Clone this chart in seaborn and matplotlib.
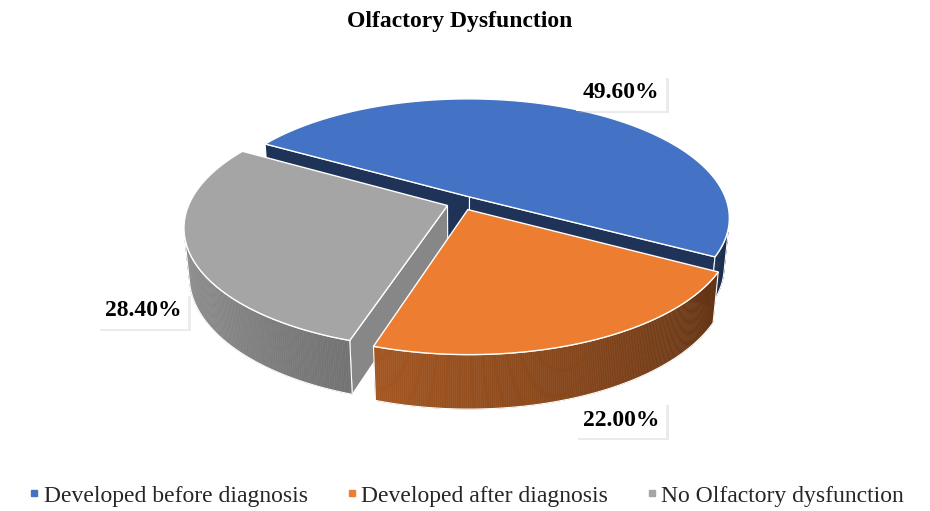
import numpy as np
import matplotlib
matplotlib.use("Agg")
import matplotlib.pyplot as plt
import matplotlib.patheffects as pe
from matplotlib.patches import Polygon
from matplotlib.lines import Line2D
from matplotlib.font_manager import FontProperties
import seaborn as sns

# Datos del grafico
categorias = ["Developed before diagnosis", "Developed after diagnosis", "No Olfactory dysfunction"]
porcentajes = [49.6, 22.0, 28.4]
etiquetas = ["49.60%", "22.00%", "28.40%"]
colores = ["#4472C4", "#ED7D31", "#A5A5A5"]

# Geometria del pastel 3D (en pixeles de la figura)
CX, CY = 462, 203
K = 258
PHI = np.radians(27)
DIST = 5.1
ALTO = 0.21
EXPLOSION = 0.06
INICIO = 150
pos_etiquetas = [(621, 93), (621, 420), (143, 311)]

sns.set_theme(style="white")
plt.rcParams['font.family'] = ['Liberation Serif', 'DejaVu Serif']
paleta = sns.color_palette(colores)

SIN, COS = np.sin(PHI), np.cos(PHI)
CAM = np.array([0.0, -DIST * COS, DIST * SIN])


def proyectar(X, Y, Z):
    X, Y, Z = np.asarray(X, float), np.asarray(Y, float), np.asarray(Z, float)
    v = Y * SIN + Z * COS
    w = -Y * COS + Z * SIN
    s = DIST / (DIST - w)
    return np.column_stack([CX + K * X * s, CY - K * v * s])


def visible(normal, punto):
    return np.dot(normal, CAM - punto) > 0


def sombra(color, f):
    r, g, b = color
    return (r * f, g * f, b * f)


def factor_lado(th):
    t = np.clip((np.degrees(th) % 360 - 180) / 150, 0, 1.2)
    return max(0.95 - 0.53 * t, 0.4)


fig = plt.figure(figsize=(9.3, 5.11), dpi=100)
ax = fig.add_axes([0, 0, 1, 1])
ax.set_xlim(0, 930)
ax.set_ylim(511, 0)
ax.axis('off')

# angulos de cada porcion (sentido horario desde INICIO)
acum = np.concatenate([[0], np.cumsum(porcentajes)])
porciones = []
for i, p in enumerate(porcentajes):
    t1 = np.radians(INICIO - acum[i] * 3.6)
    t0 = np.radians(INICIO - acum[i + 1] * 3.6)
    mid = (t0 + t1) / 2
    ox, oy = EXPLOSION * np.cos(mid), EXPLOSION * np.sin(mid)
    porciones.append((i, t0, t1, ox, oy))

# dibujar de atras hacia adelante
porciones.sort(key=lambda q: -q[4])
factor_pared = [0.45, 0.6, 0.82]

for i, t0, t1, ox, oy in porciones:
    col = paleta[i]
    # paredes radiales
    for th, n in [(t1, (-np.sin(t1), np.cos(t1), 0)), (t0, (np.sin(t0), -np.cos(t0), 0))]:
        pm = np.array([ox + 0.5 * np.cos(th), oy + 0.5 * np.sin(th), -ALTO / 2])
        if visible(np.array(n), pm):
            X = [ox, ox + np.cos(th), ox + np.cos(th), ox]
            Y = [oy, oy + np.sin(th), oy + np.sin(th), oy]
            Z = [0, 0, -ALTO, -ALTO]
            ax.add_patch(Polygon(proyectar(X, Y, Z), closed=True,
                                 fc=sombra(col, factor_pared[i]), ec="white", lw=0.8, zorder=2))
    # lado curvo con degradado
    ths = np.linspace(t0, t1, 200)
    vis = []
    for a, b in zip(ths[:-1], ths[1:]):
        m = (a + b) / 2
        pm = np.array([ox + np.cos(m), oy + np.sin(m), -ALTO / 2])
        if visible(np.array([np.cos(m), np.sin(m), 0]), pm):
            X = [ox + np.cos(a), ox + np.cos(b), ox + np.cos(b), ox + np.cos(a)]
            Y = [oy + np.sin(a), oy + np.sin(b), oy + np.sin(b), oy + np.sin(a)]
            Z = [0, 0, -ALTO, -ALTO]
            c = sombra(col, factor_lado(m))
            ax.add_patch(Polygon(proyectar(X, Y, Z), closed=True, fc=c, ec=c, lw=0.4, zorder=2))
            vis.extend([a, b])
    if vis:
        tv = np.linspace(min(vis), max(vis), 100)
        X = np.concatenate([ox + np.cos(tv), ox + np.cos(tv[::-1])])
        Y = np.concatenate([oy + np.sin(tv), oy + np.sin(tv[::-1])])
        Z = np.concatenate([np.zeros(100), -ALTO * np.ones(100)])
        ax.add_patch(Polygon(proyectar(X, Y, Z), closed=True, fill=False,
                             ec="white", lw=0.8, zorder=2))
    # cara superior
    tt = np.linspace(t0, t1, 200)
    X = np.concatenate([[ox], ox + np.cos(tt)])
    Y = np.concatenate([[oy], oy + np.sin(tt)])
    ax.add_patch(Polygon(proyectar(X, Y, np.zeros(len(X))), closed=True,
                         fc=col, ec="white", lw=1.0, zorder=2))

# etiquetas de datos
for (x, y), txt in zip(pos_etiquetas, etiquetas):
    t = ax.text(x, y, txt, ha="center", va="center", fontsize=17, fontweight="bold",
                color="black", zorder=5,
                bbox=dict(boxstyle="square,pad=0.3", fc="white", ec="none"))
    t.get_bbox_patch().set_path_effects([
        pe.SimplePatchShadow(offset=(2, -2), shadow_rgbFace="#b0b0b0", alpha=0.25),
        pe.Normal()])

ax.text(460, 21, "Olfactory Dysfunction", ha="center", va="center",
        fontsize=17, fontweight="bold", color="black")

handles = [Line2D([], [], marker="s", linestyle="none", color=c, markersize=5) for c in paleta]
fuente = FontProperties(family=['Liberation Serif', 'DejaVu Serif'], size=17)
fig.legend(handles, categorias, loc="center", bbox_to_anchor=(0.5, 1 - 496 / 511),
           ncol=3, frameon=False, prop=fuente, handletextpad=0.05, columnspacing=1.5,
           handlelength=0.7)

fig.savefig("out.png", dpi=100, facecolor="white")
